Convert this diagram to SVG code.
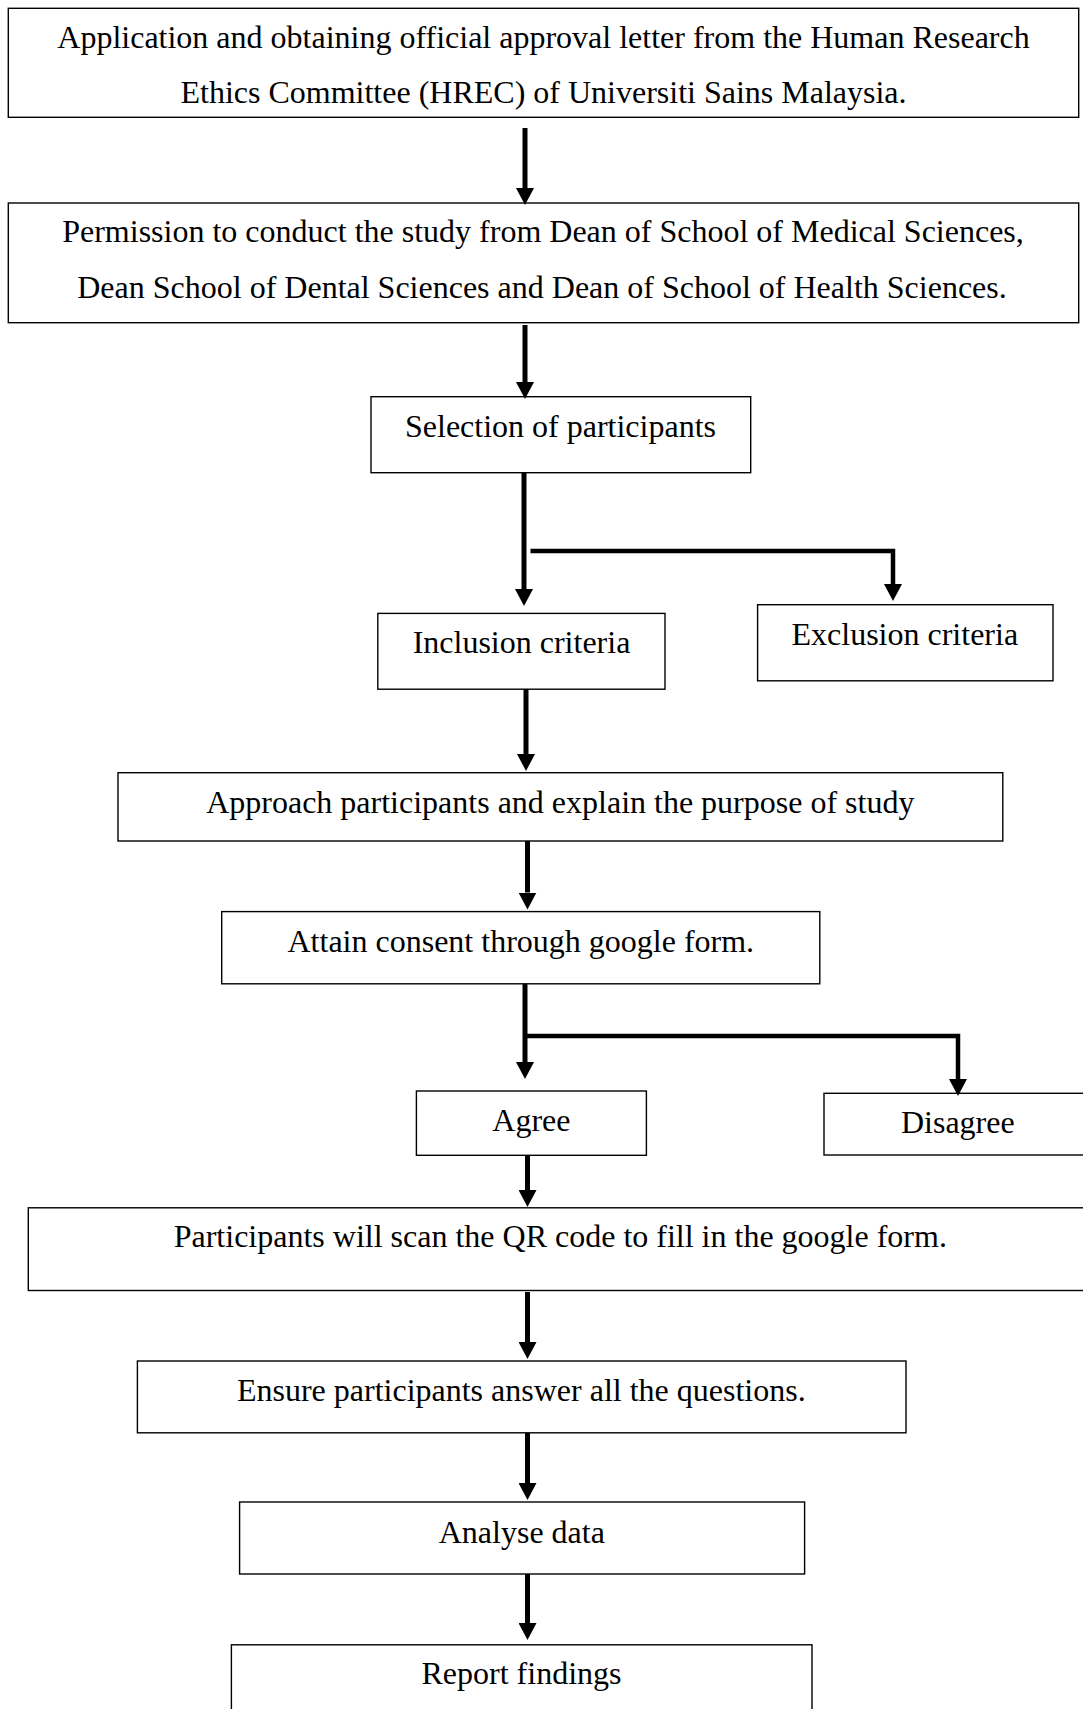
<svg xmlns="http://www.w3.org/2000/svg" width="1083" height="1709" viewBox="0 0 1083 1709">
<style>
.box{fill:#fff;stroke:#000;stroke-width:1.4}
.t{font-family:"Liberation Serif","Times New Roman",serif;font-size:32px;fill:#000;text-anchor:middle}
.c{fill:none;stroke:#000;stroke-width:5}
.h{fill:none;stroke:#000;stroke-width:4.5}
</style>
<defs>
<marker id="ah" markerUnits="userSpaceOnUse" markerWidth="18" markerHeight="18" refX="0" refY="9" orient="auto">
<path d="M0,0 L17,9 L0,18 z" fill="#000"/>
</marker>
</defs>
<rect width="1083" height="1709" fill="#fff"/>
<g id="n1"><rect class="box" x="8.3" y="8.3" width="1070.4" height="109"/>
<text class="t" x="543.5" y="48.3">Application and obtaining official approval letter from the Human Research</text>
<text class="t" x="543.5" y="103.3">Ethics Committee (HREC) of Universiti Sains Malaysia.</text></g>
<g id="n2"><rect class="box" x="8.3" y="203" width="1070.4" height="119.7"/>
<text class="t" x="543" y="242.3">Permission to conduct the study from Dean of School of Medical Sciences,</text>
<text class="t" x="542" y="298.3">Dean School of Dental Sciences and Dean of School of Health Sciences.</text></g>
<g id="n3"><rect class="box" x="371" y="396.7" width="379.7" height="76"/>
<text class="t" x="560.5" y="436.7">Selection of participants</text></g>
<g id="n4"><rect class="box" x="377.8" y="613.4" width="287.2" height="75.8"/>
<text class="t" x="521.5" y="653.4">Inclusion criteria</text></g>
<g id="n5"><rect class="box" x="757.6" y="604.7" width="295.4" height="76.1"/>
<text class="t" x="904.8" y="644.7">Exclusion criteria</text></g>
<g id="n6"><rect class="box" x="118" y="772.7" width="884.8" height="68.3"/>
<text class="t" x="560.3" y="813">Approach participants and explain the purpose of study</text></g>
<g id="n7"><rect class="box" x="221.7" y="911.6" width="598.1" height="72.2"/>
<text class="t" x="520.8" y="951.6">Attain consent through google form.</text></g>
<g id="n8"><rect class="box" x="416.4" y="1091" width="230" height="64.3"/>
<text class="t" x="531.4" y="1131">Agree</text></g>
<g id="n9"><rect class="box" x="824" y="1093.3" width="270" height="61.7"/>
<text class="t" x="957.8" y="1133.3">Disagree</text></g>
<g id="n10"><rect class="box" x="28.3" y="1207.8" width="1070" height="82.7"/>
<text class="t" x="560.3" y="1247.3">Participants will scan the QR code to fill in the google form.</text></g>
<g id="n11"><rect class="box" x="137.4" y="1361" width="768.6" height="71.8"/>
<text class="t" x="521.3" y="1400.7">Ensure participants answer all the questions.</text></g>
<g id="n12"><rect class="box" x="239.6" y="1502" width="565" height="72"/>
<text class="t" x="521.8" y="1542.5">Analyse data</text></g>
<g id="n13"><rect class="box" x="231.4" y="1644.8" width="580.6" height="80"/>
<text class="t" x="521.5" y="1684">Report findings</text></g>
<g id="connectors">
<line class="c" x1="525" y1="128" x2="525" y2="188" marker-end="url(#ah)"/>
<line class="c" x1="525" y1="325" x2="525" y2="382" marker-end="url(#ah)"/>
<line class="c" x1="524" y1="473" x2="524" y2="589" marker-end="url(#ah)"/>
<polyline class="h" points="530.5,551 893,551 893,584" marker-end="url(#ah)"/>
<line class="c" x1="526" y1="689" x2="526" y2="754" marker-end="url(#ah)"/>
<line class="c" x1="527.5" y1="841" x2="527.5" y2="892.5" marker-end="url(#ah)"/>
<line class="c" x1="525" y1="984" x2="525" y2="1062" marker-end="url(#ah)"/>
<polyline class="h" points="525,1036 958,1036 958,1079" marker-end="url(#ah)"/>
<line class="c" x1="527.5" y1="1155" x2="527.5" y2="1190" marker-end="url(#ah)"/>
<line class="c" x1="527.5" y1="1292" x2="527.5" y2="1342" marker-end="url(#ah)"/>
<line class="c" x1="527.5" y1="1433" x2="527.5" y2="1483" marker-end="url(#ah)"/>
<line class="c" x1="527.5" y1="1574" x2="527.5" y2="1623" marker-end="url(#ah)"/>
</g>
</svg>
